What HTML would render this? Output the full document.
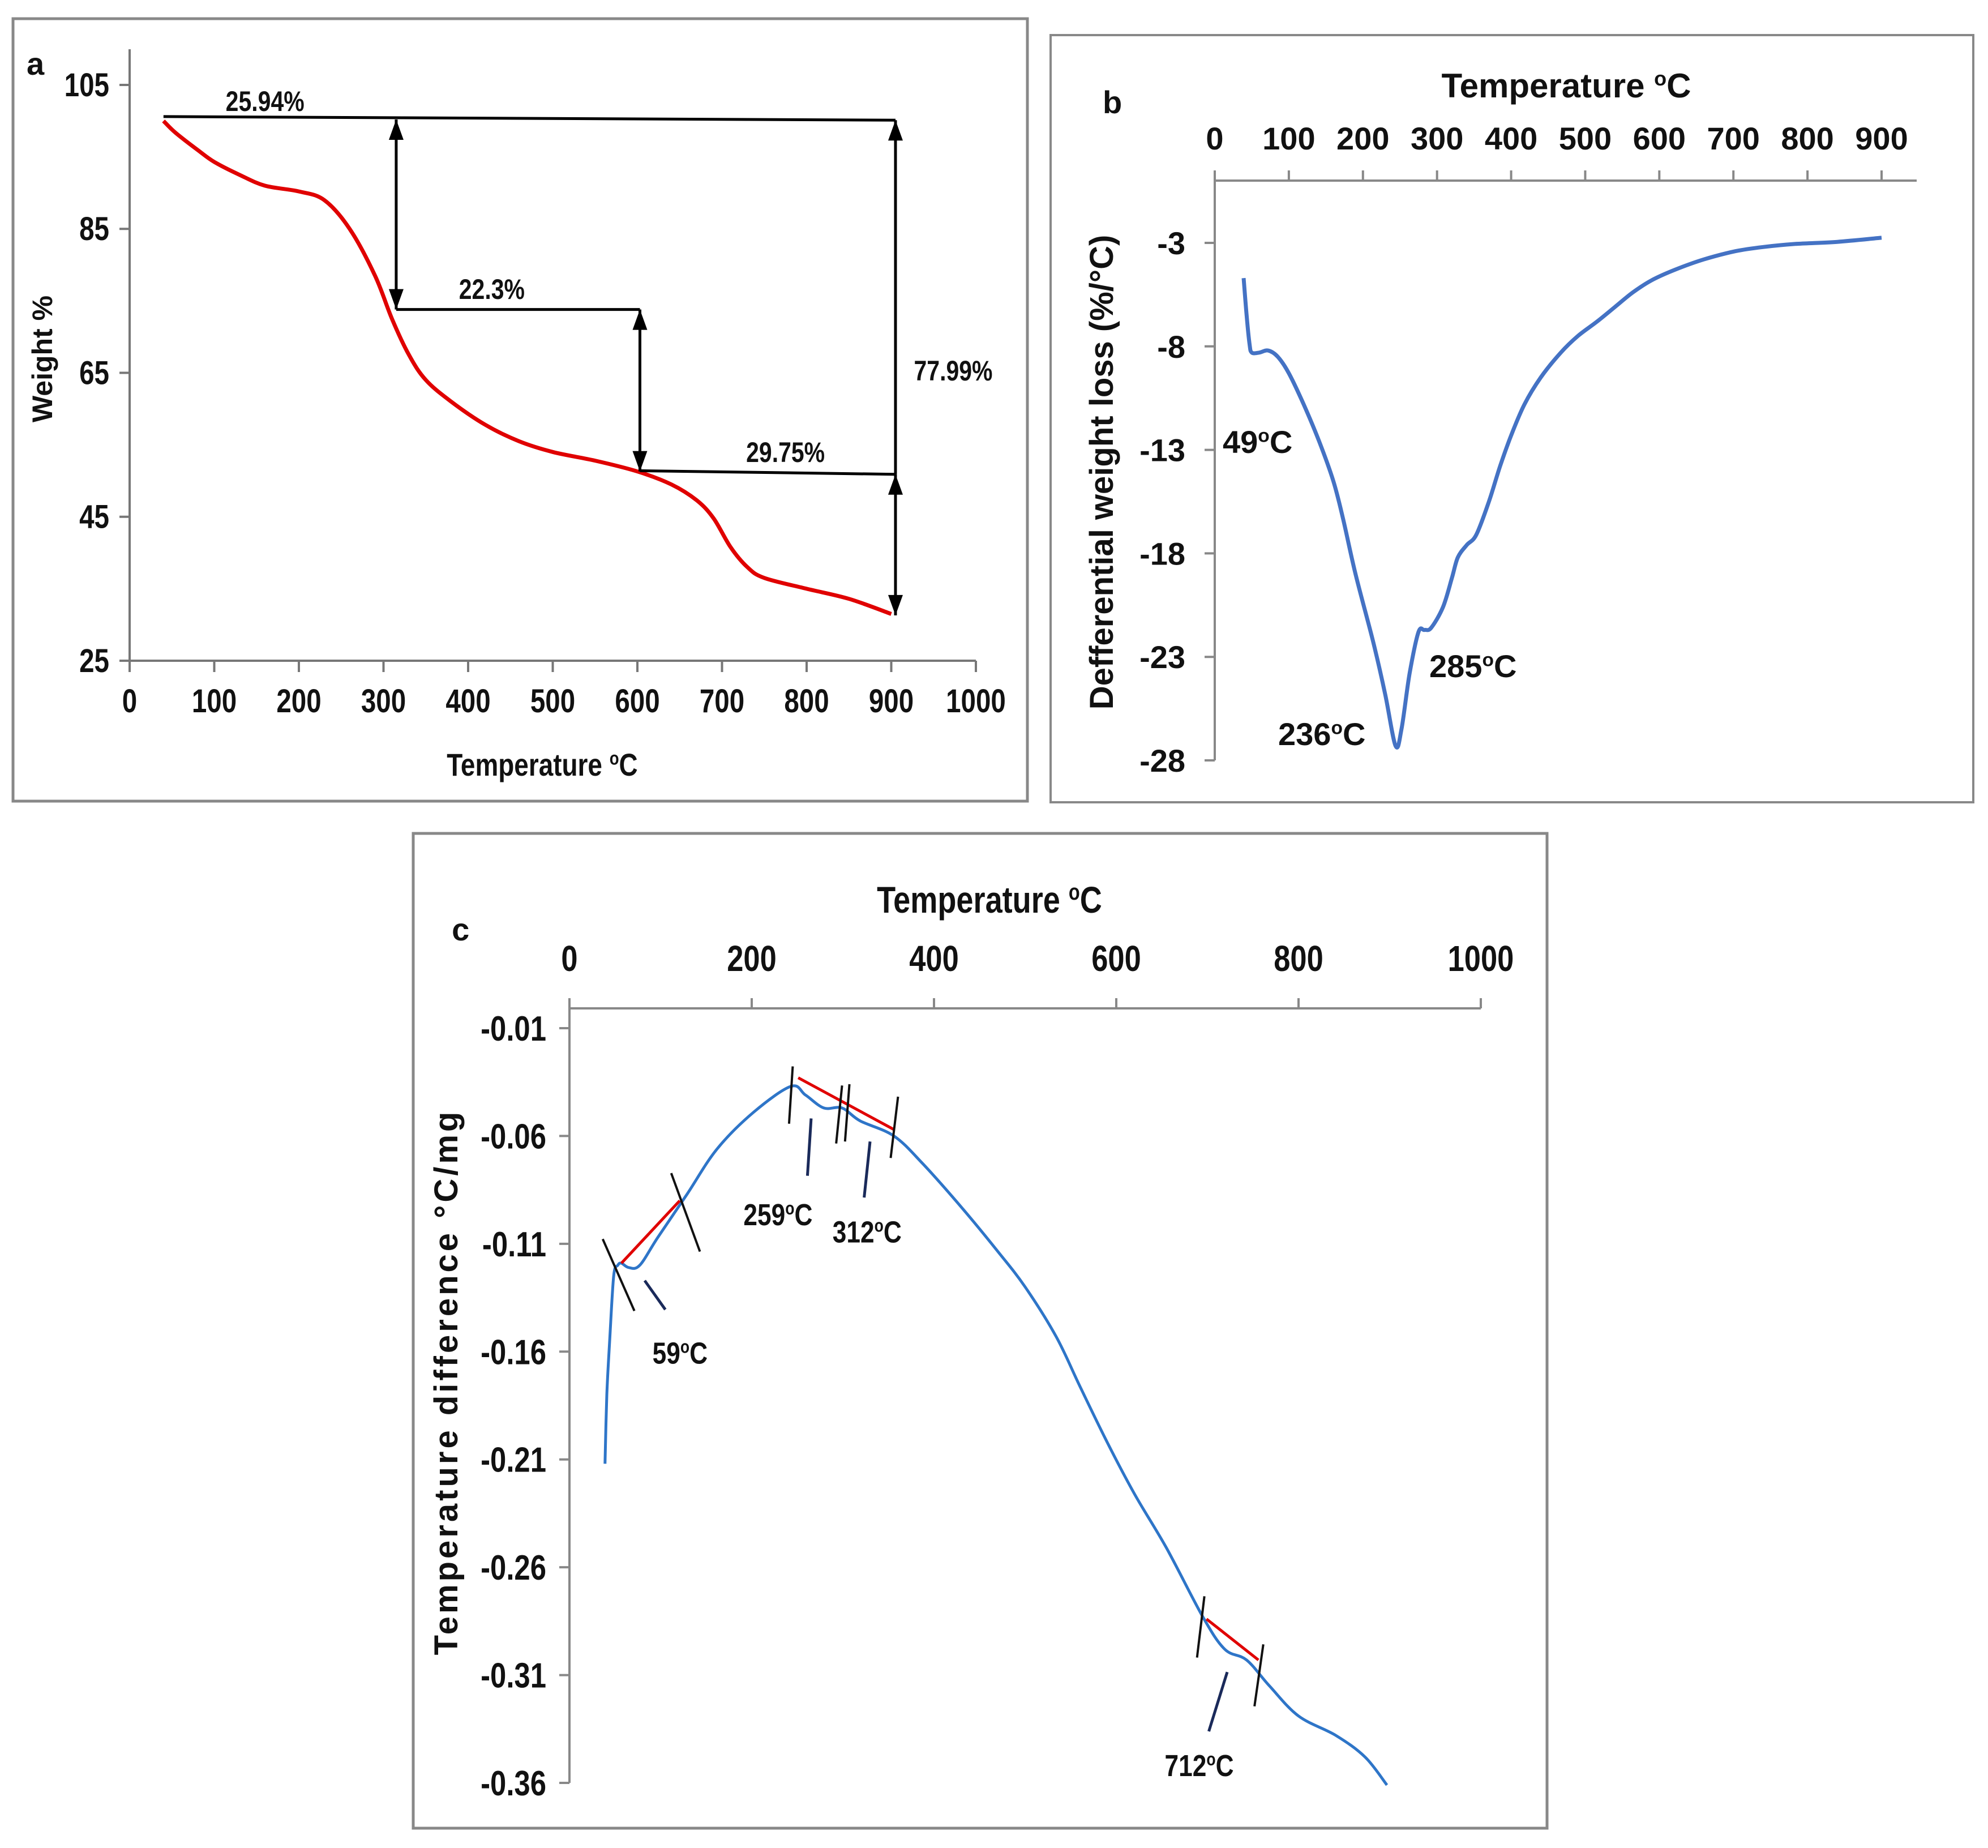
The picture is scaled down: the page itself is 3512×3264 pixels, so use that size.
<!DOCTYPE html>
<html><head><meta charset="utf-8"><style>
html,body{margin:0;padding:0;background:#fff}
svg{display:block}
text{font-family:"Liberation Sans",sans-serif;font-weight:bold;fill:#111}
</style></head><body>
<svg id="s" width="3512" height="3264" viewBox="0 0 3512 3264" xmlns="http://www.w3.org/2000/svg">
<rect x="0" y="0" width="3512" height="3264" fill="#fff"/>
<rect x="23" y="33" width="1792" height="1382" fill="none" stroke="#888" stroke-width="5"/>
<rect x="1856" y="62" width="1630" height="1355" fill="none" stroke="#888" stroke-width="4"/>
<rect x="730" y="1472" width="2003" height="1757" fill="none" stroke="#888" stroke-width="5"/>
<g id="ga"></g>
<g id="gb"></g>
<g id="gc"></g>
</svg>
<script>
// Panel a data
const aTicksX=[0,100,200,300,400,500,600,700,800,900,1000];
const aTicksY=[25,45,65,85,105];
const aTemp=[40,50,60,80,100,130,160,200,230,260,290,310,330,350,380,420,460,500,550,600,640,670,690,710,730,750,800,850,900];
const aWeight=[100,98.8,97.8,96,94.3,92.5,91,90.2,89,85,78.5,72.5,67.5,64,61,57.8,55.5,54,52.8,51.3,49.5,47.3,44.8,40.8,38,36.5,35,33.6,31.5];
// Panel b data
const bTicksX=[0,100,200,300,400,500,600,700,800,900];
const bTicksY=[-3,-8,-13,-18,-23,-28];
const bTemp=[39,43,47,50,60,72,85,100,120,141,160,173,190,214,230,244,252,263,275,283,292,308,320,328,340,353,370,385,400,418,440,467,490,516,540,564,590,621,660,703,740,784,840,900];
const bVal=[-4.7,-6.5,-7.9,-8.3,-8.3,-8.2,-8.5,-9.3,-10.8,-12.6,-14.5,-16.3,-19,-22.3,-24.8,-27.3,-26.5,-23.8,-21.8,-21.7,-21.6,-20.6,-19.2,-18.2,-17.6,-17.1,-15.5,-13.8,-12.3,-10.8,-9.5,-8.3,-7.5,-6.8,-6.1,-5.4,-4.8,-4.3,-3.8,-3.4,-3.2,-3.05,-2.95,-2.75];
// Panel c data
const cTicksX=[0,200,400,600,800,1000];
const cTicksY=[-0.01,-0.06,-0.11,-0.16,-0.21,-0.26,-0.31,-0.36];
const cTemp=[39,41,44,48.5,53,57,65,77,97,129,162,202,243,259,279,299,319,356,388,430,469,500,534,560,590,620,655,695,719,743,768,800,841,873,897];
const cVal=[-0.212,-0.18,-0.156,-0.125,-0.12,-0.119,-0.121,-0.12,-0.107,-0.087,-0.066,-0.049,-0.037,-0.041,-0.047,-0.047,-0.053,-0.06,-0.073,-0.093,-0.113,-0.13,-0.153,-0.176,-0.202,-0.226,-0.251,-0.283,-0.298,-0.303,-0.315,-0.329,-0.338,-0.348,-0.361];
const cTangT=[[57,121],[251,356],[699,756]];
const cTangV=[[-0.119,-0.090],[-0.033,-0.057],[-0.284,-0.303]];

const NS="http://www.w3.org/2000/svg";
const NARROW=0.82;
function el(p,tag,attrs){const e=document.createElementNS(NS,tag);for(const k in attrs)e.setAttribute(k,attrs[k]);p.appendChild(e);return e;}
function nar(t,x,y){t.setAttribute('transform',`translate(${x} ${y}) scale(${NARROW} 1) translate(${-x} ${-y})`);}
function txt(p,x,y,s,size,anchor,narrow){const t=el(p,'text',{x:x,y:y,'font-size':size,'text-anchor':anchor||'start'});t.textContent=s;if(narrow)nar(t,x,y);return t;}
function degTxt(p,x,y,pre,post,size,anchor,narrow){const t=el(p,'text',{x:x,y:y,'font-size':size,'text-anchor':anchor||'start'});
 const a=document.createElementNS(NS,'tspan');a.textContent=pre;t.appendChild(a);
 const b=document.createElementNS(NS,'tspan');b.setAttribute('font-size',size*0.6);b.setAttribute('dy',-size*0.35);b.textContent='o';t.appendChild(b);
 const c=document.createElementNS(NS,'tspan');c.setAttribute('dy',size*0.35);c.textContent=post;t.appendChild(c);if(narrow)nar(t,x,y);return t;}
function path(xs,ys,fx,fy){
 const P=xs.map((v,i)=>[fx(v),fy(ys[i])]);
 let d='M'+P[0][0].toFixed(1)+','+P[0][1].toFixed(1);
 for(let i=0;i<P.length-1;i++){const p0=P[Math.max(0,i-1)],p1=P[i],p2=P[i+1],p3=P[Math.min(P.length-1,i+2)];
  const c1=[p1[0]+(p2[0]-p0[0])/6,p1[1]+(p2[1]-p0[1])/6],c2=[p2[0]-(p3[0]-p1[0])/6,p2[1]-(p3[1]-p1[1])/6];
  d+=` C${c1[0].toFixed(1)},${c1[1].toFixed(1)} ${c2[0].toFixed(1)},${c2[1].toFixed(1)} ${p2[0].toFixed(1)},${p2[1].toFixed(1)}`;}
 return d;}

// ---------- Panel a
(function(){
 const g=document.getElementById('ga');
 const X=v=>229+(v/1000)*(1724-229);
 const Y=v=>150+(105-v)/80*(1167-150);
 let e;
 e=el(g,'line',{x1:X(0),y1:87,x2:X(0),y2:Y(25),stroke:'#777','stroke-width':4});
 
 e=el(g,'line',{x1:X(0),y1:Y(25),x2:X(1000),y2:Y(25),stroke:'#777','stroke-width':4});
 
 aTicksX.forEach(v=>{el(g,'line',{x1:X(v),y1:Y(25),x2:X(v),y2:Y(25)+20,stroke:'#777','stroke-width':4});
  const t=txt(g,X(v),1258,String(v),58,'middle',true);});
 aTicksY.forEach(v=>{el(g,'line',{x1:X(0)-18,y1:Y(v),x2:X(0),y2:Y(v),stroke:'#777','stroke-width':4});
  const t=txt(g,193,Y(v)+20,String(v),58,'end',true);});
 e=el(g,'path',{d:path(aTemp,aWeight,X,Y),fill:'none',stroke:'#e00000','stroke-width':7,'stroke-linejoin':'round'});
 
 const K='#000';
 function arrow(x,y1,y2,both){el(g,'line',{x1:x,y1:y1,x2:x,y2:y2,stroke:K,'stroke-width':5});
  const dir=Math.sign(y2-y1);
  const hd=(y,d)=>el(g,'polygon',{points:`${x-13},${y-d*36} ${x+13},${y-d*36} ${x},${y}`,fill:K});
  hd(y2,dir); if(both) hd(y1,-dir);}
 el(g,'line',{x1:X(40),y1:Y(100.6),x2:X(905),y2:Y(100.1),stroke:K,'stroke-width':5});
 arrow(X(315),Y(100.2),Y(73.8),true);
 el(g,'line',{x1:X(315),y1:Y(73.8),x2:X(603),y2:Y(73.8),stroke:K,'stroke-width':5});
 arrow(X(603),Y(73.8),Y(51.3),true);
 el(g,'line',{x1:X(603),y1:Y(51.4),x2:X(905),y2:Y(50.9),stroke:K,'stroke-width':5});
 arrow(X(905),Y(50.9),Y(100.1),false);
 arrow(X(905),Y(50.9),Y(31.3),true);
 txt(g,X(160),196,'25.94%',50,'middle',true);
 txt(g,X(428),528,'22.3%',50,'middle',true);
 txt(g,X(775),816,'29.75%',50,'middle',true);
 txt(g,1684,672,'77.99%',50,'middle',true);
 e=degTxt(g,958,1370,'Temperature ','C',56,'middle',true);
 e=el(g,'text',{'font-size':50,'text-anchor':'middle',transform:'translate(92,634) rotate(-90)'});e.textContent='Weight %';
 
 e=txt(g,47,132,'a',56,'start');
})();

// ---------- Panel b
(function(){
 const g=document.getElementById('gb');
 const X=v=>2146+(v/900)*(3324-2146);
 const Y=v=>429+(-3-v)/25*(1343-429);
 let e;
 e=el(g,'line',{x1:X(0),y1:319,x2:3386,y2:319,stroke:'#888','stroke-width':4});
 
 e=el(g,'line',{x1:X(0),y1:319,x2:X(0),y2:Y(-28),stroke:'#888','stroke-width':4});
 
 bTicksX.forEach(v=>{el(g,'line',{x1:X(v),y1:301,x2:X(v),y2:319,stroke:'#888','stroke-width':4});
  const t=txt(g,X(v),264,String(v),56,'middle');});
 bTicksY.forEach(v=>{el(g,'line',{x1:X(0)-18,y1:Y(v),x2:X(0),y2:Y(v),stroke:'#888','stroke-width':4});
  const t=txt(g,2094,Y(v)+20,String(v),56,'end');});
 e=el(g,'path',{d:path(bTemp,bVal,X,Y),fill:'none',stroke:'#4472c4','stroke-width':7,'stroke-linejoin':'round'});
 
 degTxt(g,2160,800,'49','C',56,'start');
 degTxt(g,2258,1316,'236','C',56,'start');
 degTxt(g,2525,1196,'285','C',56,'start');
 e=degTxt(g,2767,172,'Temperature ','C',60,'middle');
 e=el(g,'text',{'font-size':58,'text-anchor':'middle',transform:'translate(1966,834) rotate(-90)'});
 e.textContent='Defferential weight loss (%/°C)';
 
 e=txt(g,1948,200,'b',56,'start');
})();

// ---------- Panel c
(function(){
 const g=document.getElementById('gc');
 const X=v=>1006+(v/1000)*(2616-1006);
 const Y=v=>1816+(-0.01-v)/0.35*(3149-1816);
 const Z=(x,y)=>[720+x*1.301,1440+y*1.164];
 let e;
 e=el(g,'line',{x1:X(0),y1:1781,x2:X(1000),y2:1781,stroke:'#888','stroke-width':4});
 
 e=el(g,'line',{x1:X(0),y1:1781,x2:X(0),y2:Y(-0.36),stroke:'#888','stroke-width':4});
 
 cTicksX.forEach(v=>{el(g,'line',{x1:X(v),y1:1781,x2:X(v),y2:1763,stroke:'#888','stroke-width':4});
  const t=txt(g,X(v),1715,String(v),64,'middle',true);});
 cTicksY.forEach(v=>{el(g,'line',{x1:X(0)-18,y1:Y(v),x2:X(0),y2:Y(v),stroke:'#888','stroke-width':4});
  const t=txt(g,965,Y(v)+22,String(v),62,'end',true);});
 e=el(g,'path',{d:path(cTemp,cVal,X,Y),fill:'none',stroke:'#2e75c8','stroke-width':5,'stroke-linejoin':'round'});
 
 cTangT.forEach((t,i)=>{const l=el(g,'line',{x1:X(t[0]),y1:Y(cTangV[i][0]),x2:X(t[1]),y2:Y(cTangV[i][1]),stroke:'#e00000','stroke-width':5});
  });
 const blk=[[265,643,308,752],[358,543,397,662],[523,381,518,468],[590,410,582,498],[600,408,594,495],[666,427,656,520],[1082,1185,1072,1278],[1162,1258,1150,1352]];
 blk.forEach(b=>{const a=Z(b[0],b[1]),c=Z(b[2],b[3]);el(g,'line',{x1:a[0],y1:a[1],x2:c[0],y2:c[1],stroke:'#111','stroke-width':4});});
 const blu=[[322,706,350,750],[548,460,543,547],[628,495,620,580],[1113,1300,1088,1390]];
 blu.forEach(b=>{const a=Z(b[0],b[1]),c=Z(b[2],b[3]);el(g,'line',{x1:a[0],y1:a[1],x2:c[0],y2:c[1],stroke:'#1a2a5a','stroke-width':5});});
 let p;
 p=Z(370,832);degTxt(g,p[0],p[1],'59','C',54,'middle',true);
 p=Z(503,622);degTxt(g,p[0],p[1],'259','C',54,'middle',true);
 p=Z(624,648);degTxt(g,p[0],p[1],'312','C',54,'middle',true);
 p=Z(1075,1458);degTxt(g,p[0],p[1],'712','C',54,'middle',true);
 e=degTxt(g,1748,1612,'Temperature ','C',66,'middle',true);
 e=el(g,'text',{'font-size':58,'text-anchor':'middle','letter-spacing':5,transform:'translate(808,2441) rotate(-90)'});
 e.textContent='Temperature difference °C/mg';
 
 p=Z(72,190);e=txt(g,p[0],p[1],'c',56,'middle');
})();
</script>
</body></html>
